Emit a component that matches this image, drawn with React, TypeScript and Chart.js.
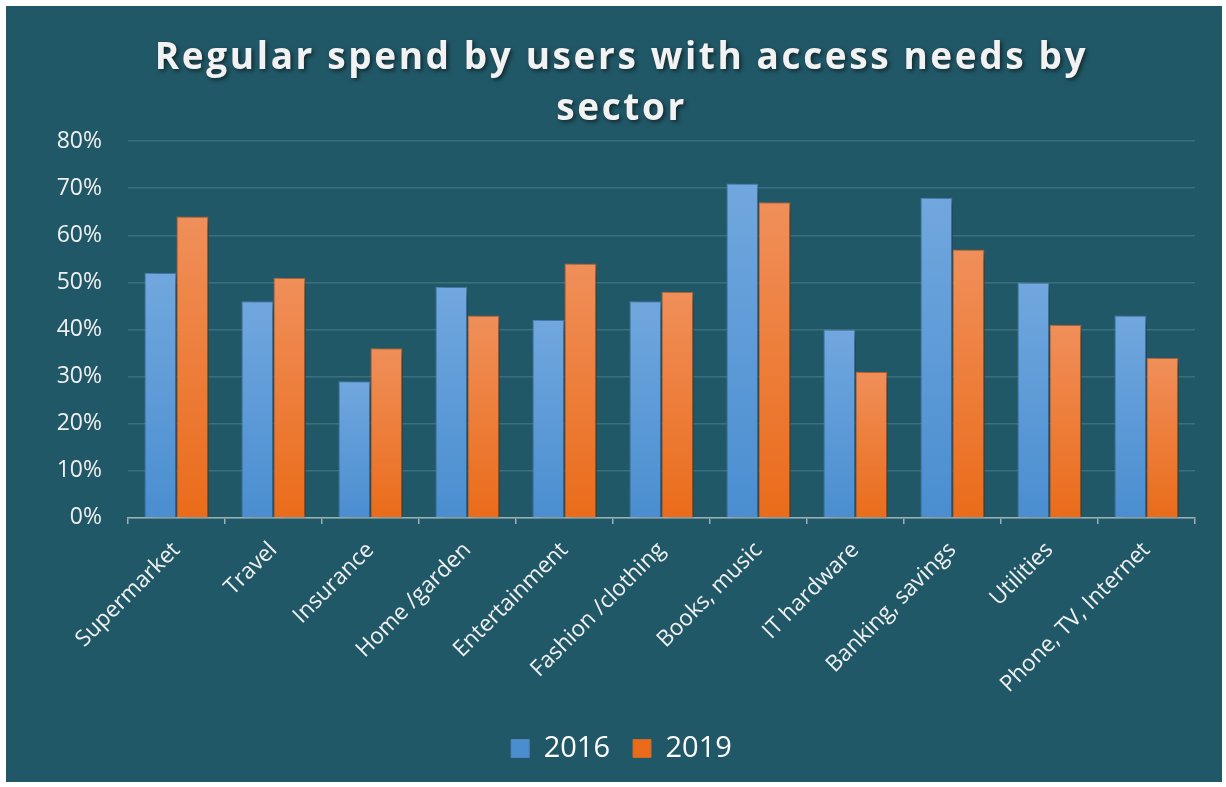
import React, { useEffect, useRef } from "react";
import { Chart, registerables } from "chart.js";

Chart.register(...registerables);

const categories = [
  "Supermarket",
  "Travel",
  "Insurance",
  "Home /garden",
  "Entertainment",
  "Fashion /clothing",
  "Books, music",
  "IT hardware",
  "Banking, savings",
  "Utilities",
  "Phone, TV, Internet",
];
const values2016 = [52, 46, 29, 49, 42, 46, 71, 40, 68, 50, 43];
const values2019 = [64, 51, 36, 43, 54, 48, 67, 31, 57, 41, 34];
const seriesLabels = ["2016", "2019"];
const titleLines = ["Regular spend by users with access needs by", "sector"];

const BG = "#215867";

function barGradient(top: string, bottom: string, solid: string) {
  return (ctx: any) => {
    const chart = ctx.chart;
    const y = chart.scales?.y;
    if (!chart.chartArea || !y || ctx.raw == null) return solid;
    const yTop = y.getPixelForValue(ctx.raw);
    const yBase = y.getPixelForValue(0);
    if (!isFinite(yTop) || !isFinite(yBase) || yTop === yBase) return solid;
    const g = chart.ctx.createLinearGradient(0, yTop, 0, yBase);
    g.addColorStop(0, top);
    g.addColorStop(1, bottom);
    return g;
  };
}

const effectsPlugin = {
  id: "effects",
  beforeDraw(chart: any) {
    const tb = chart.titleBlock;
    if (tb && !tb.__patched) {
      const orig = tb.draw.bind(tb);
      tb.draw = (...args: any[]) => {
        const c = chart.ctx;
        c.save();
        (c as any).letterSpacing = "2.6px";
        c.shadowColor = "rgba(0,0,0,0.55)";
        c.shadowBlur = 4;
        c.shadowOffsetX = 2;
        c.shadowOffsetY = 2;
        orig(...args);
        c.restore();
      };
      tb.__patched = true;
    }
  },
  beforeDatasetsDraw(chart: any) {
    const c = chart.ctx;
    c.save();
    c.shadowColor = "rgba(0,0,0,0.6)";
    c.shadowBlur = 10;
    c.shadowOffsetX = 6;
    c.shadowOffsetY = 3;
  },
  afterDatasetsDraw(chart: any) {
    chart.ctx.restore();
  },
};

export default function App() {
  const ref = useRef<HTMLCanvasElement | null>(null);

  useEffect(() => {
    if (!ref.current) return;
    const chart = new Chart(ref.current, {
      type: "bar",
      data: {
        labels: categories,
        datasets: [
          {
            label: seriesLabels[0],
            data: values2016,
            backgroundColor: barGradient("#71a7de", "#4a8ed0", "#5b9bd5"),
            borderColor: "#4f86bd",
            borderWidth: 1,
            categoryPercentage: 0.66,
            barPercentage: 1.0,
          },
          {
            label: seriesLabels[1],
            data: values2019,
            backgroundColor: barGradient("#f08f5a", "#ea6c1a", "#ed7d31"),
            borderColor: "#c9692c",
            borderWidth: 1,
            categoryPercentage: 0.66,
            barPercentage: 1.0,
          },
        ],
      },
      plugins: [effectsPlugin],
      options: {
        animation: false,
        responsive: false,
        maintainAspectRatio: false,
        layout: { padding: { left: 42, right: 27, top: 8, bottom: 9 } },
        plugins: {
          title: {
            display: true,
            text: titleLines,
            color: "#f2f2f2",
            font: { family: "Open Sans", size: 37, weight: "bold", lineHeight: 1.38 },
            padding: { top: 19, bottom: 6 },
          },
          legend: {
            position: "bottom",
            labels: {
              color: "#ffffff",
              font: { family: "Open Sans", size: 29 },
              boxWidth: 18,
              boxHeight: 18,
              padding: 23,
            },
          },
          tooltip: { enabled: false },
        },
        scales: {
          x: {
            afterFit: (s: any) => {
              s.paddingLeft = 0;
              s.paddingRight = 0;
            },
            grid: {
              offset: true,
              drawOnChartArea: false,
              drawTicks: true,
              tickLength: 6,
              color: "#9db0b5",
              lineWidth: 1.5,
            },
            border: { display: true, color: "#9db0b5", width: 1.5 },
            ticks: {
              color: "#f0f0f0",
              font: { family: "Open Sans", size: 22.5 },
              maxRotation: 45,
              minRotation: 45,
              autoSkip: false,
              padding: 13,
            },
          },
          y: {
            min: 0,
            max: 80,
            afterFit: (s: any) => {
              s.width = 80;
            },
            grid: { color: "#3d6e7b", lineWidth: 1.5, drawTicks: false },
            border: { display: false },
            ticks: {
              stepSize: 10,
              color: "#f0f0f0",
              font: { family: "Open Sans", size: 23 },
              padding: 26,
              callback: (v: any) => v + "%",
            },
          },
        },
      },
    });
    return () => chart.destroy();
  }, []);

  return (
    <div
      style={{
        position: "absolute",
        left: 6,
        top: 6,
        width: 1216,
        height: 776,
        background: BG,
      }}
    >
      <canvas ref={ref} width={1216} height={776} style={{ display: "block" }} />
    </div>
  );
}
